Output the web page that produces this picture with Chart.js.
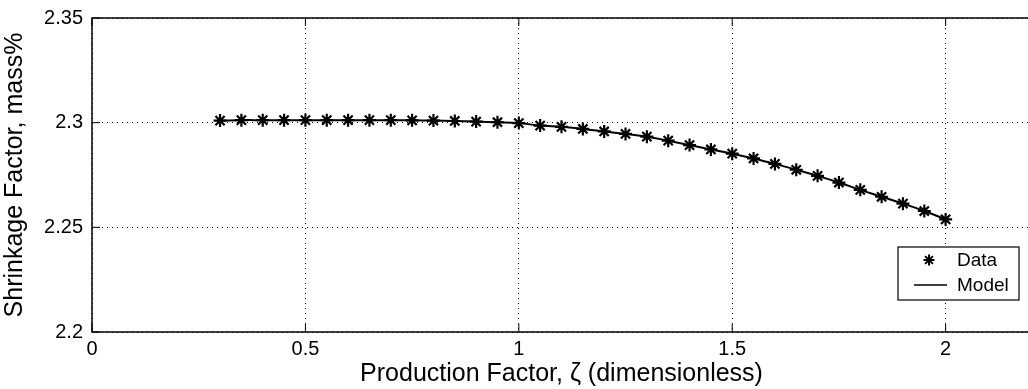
<!DOCTYPE html>
<html><head><meta charset="utf-8">
<script src="https://cdn.jsdelivr.net/npm/chart.js@4/dist/chart.umd.min.js"></script>
<style>html,body{margin:0;padding:0;background:#fff;overflow:hidden;width:1028px;height:389px}canvas{display:block}</style>
</head><body>
<canvas id="c" width="1040" height="389"></canvas>
<script>
const xValues = [0.3,0.35,0.4,0.45,0.5,0.55,0.6,0.65,0.7,0.75,0.8,0.85,0.9,0.95,1.0,1.05,1.1,1.15,1.2,1.25,1.3,1.35,1.4,1.45,1.5,1.55,1.6,1.65,1.7,1.75,1.8,1.85,1.9,1.95,2.0];
const dataValues = [2.3010,2.3012,2.3012,2.3012,2.3012,2.3012,2.3012,2.3012,2.3012,2.3011,2.3010,2.3008,2.3005,2.3002,2.2998,2.2986,2.2980,2.2970,2.2958,2.2946,2.2933,2.2914,2.2893,2.2872,2.2852,2.2829,2.2803,2.2775,2.2746,2.2714,2.2679,2.2646,2.2613,2.2578,2.2538];
const modelValues = dataValues;
const xTicks = [0,0.5,1,1.5,2];
const yTicks = [2.2,2.25,2.3,2.35];
const seriesLabels = ['Data','Model'];
const xTitle = 'Production Factor, \u03B6 (dimensionless)';
const yTitle = 'Shrinkage Factor, mass%';

const FONT = '"Liberation Sans", Arial, sans-serif';

const framePlugin = {
  id: 'frame',
  afterDatasetsDraw(chart) {
    const {ctx, chartArea: a, scales: {x, y}} = chart;
    ctx.save();
    ctx.strokeStyle = '#000';
    ctx.lineWidth = 1.5;
    ctx.strokeRect(a.left, a.top, a.right - a.left, a.bottom - a.top);
    ctx.lineWidth = 1;
    ctx.beginPath();
    xTicks.forEach(v => { const px = x.getPixelForValue(v); ctx.moveTo(px, a.bottom); ctx.lineTo(px, a.bottom - 8); ctx.moveTo(px, a.top); ctx.lineTo(px, a.top + 8); });
    yTicks.forEach(v => { const py = y.getPixelForValue(v); ctx.moveTo(a.left, py); ctx.lineTo(a.left + 8, py); });
    ctx.stroke();
    // legend
    const lx = 898, ly = 247, lw = 121, lh = 53;
    ctx.fillStyle = '#fff';
    ctx.fillRect(lx, ly, lw, lh);
    ctx.lineWidth = 1.2;
    ctx.strokeRect(lx, ly, lw, lh);
    const sx = 929, sy = 260, r = 5.5;
    ctx.lineWidth = 2;
    ctx.beginPath();
    for (let k = 0; k < 4; k++) {
      const ang = k * Math.PI / 4;
      ctx.moveTo(sx - r * Math.cos(ang), sy - r * Math.sin(ang));
      ctx.lineTo(sx + r * Math.cos(ang), sy + r * Math.sin(ang));
    }
    ctx.stroke();
    ctx.lineWidth = 1.5;
    ctx.beginPath(); ctx.moveTo(914, 285); ctx.lineTo(947, 285); ctx.stroke();
    ctx.fillStyle = '#000';
    ctx.font = '19px ' + FONT;
    ctx.textBaseline = 'middle';
    ctx.textAlign = 'left';
    ctx.fillText(seriesLabels[0], 957, 261);
    ctx.fillText(seriesLabels[1], 957, 286);
    ctx.restore();
  }
};

new Chart(document.getElementById('c'), {
  type: 'scatter',
  data: {
    datasets: [
      {
        label: seriesLabels[0],
        data: xValues.map((v, i) => ({x: v, y: dataValues[i]})),
        pointStyle: 'star', pointRadius: 6.5, borderColor: '#000', backgroundColor: '#000',
        borderWidth: 2.2, showLine: false, order: 1
      },
      {
        label: seriesLabels[1],
        data: xValues.map((v, i) => ({x: v, y: modelValues[i]})),
        showLine: true, pointRadius: 0, borderColor: '#000', borderWidth: 2, tension: 0.4, order: 2
      }
    ]
  },
  options: {
    responsive: false, animation: false,
    layout: {padding: {left: 0, right: 9, top: 18, bottom: 0}},
    plugins: {legend: {display: false}, tooltip: {enabled: false}},
    scales: {
      x: {
        type: 'linear', min: 0, max: 2.2,
        afterBuildTicks: s => { s.ticks = xTicks.map(v => ({value: v})); },
        afterFit: s => { s.height = 57; s.paddingLeft = 0; s.paddingRight = 0; },
        grid: {color: '#000', lineWidth: 1, drawTicks: false},
        border: {display: false, dash: [1, 4]},
        ticks: {color: '#000', font: {family: FONT, size: 20}, padding: 5, maxRotation: 0, callback: v => String(v)},
        title: {display: true, text: xTitle, color: '#000', font: {family: FONT, size: 25}, padding: {top: 1, bottom: 0}}
      },
      y: {
        type: 'linear', min: 2.2, max: 2.35,
        afterBuildTicks: s => { s.ticks = yTicks.map(v => ({value: v})); },
        afterFit: s => { s.width = 92; s.paddingTop = 0; s.paddingBottom = 0; },
        grid: {color: '#000', lineWidth: 1, drawTicks: false},
        border: {display: false, dash: [1, 4]},
        ticks: {color: '#000', font: {family: FONT, size: 20}, padding: 9, callback: v => String(v)},
        title: {display: true, text: yTitle, color: '#000', font: {family: FONT, size: 25}, padding: {top: 0, bottom: 4}}
      }
    }
  },
  plugins: [framePlugin]
});
</script>
</body></html>
